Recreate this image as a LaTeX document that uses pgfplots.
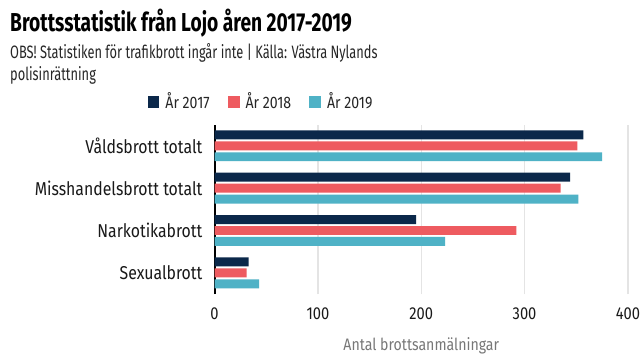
\documentclass[border=0pt]{standalone}
\usepackage{pgfplots}
\pgfplotsset{compat=1.18}
\usepackage{fontspec}
\setmainfont{Fira Sans}[FakeStretch=0.85]
\newfontfamily\titlefont{Fira Sans}[FakeStretch=0.74]
\newfontfamily\subfont{Fira Sans}[FakeStretch=0.715]
\definecolor{c17}{HTML}{0B284A}
\definecolor{c18}{HTML}{EE5B60}
\definecolor{c19}{HTML}{4FB2C6}
\definecolor{gridc}{HTML}{E4E4E4}
\definecolor{labc}{HTML}{777777}
\begin{document}
\begin{tikzpicture}[x=0.75pt,y=0.75pt]
\path[fill=white] (-215.3,-65) rectangle (424.7,295);
\node[anchor=base west, inner sep=0pt, font=\titlefont\bfseries\fontsize{19.5pt}{22pt}\selectfont, text=black] at (-205.3,263) {Brottsstatistik från Lojo åren 2017-2019};
\node[anchor=base west, inner sep=0pt, font=\subfont\fontsize{13.5pt}{16.5pt}\selectfont, text=black!85] at (-205.3,236) {OBS! Statistiken för trafikbrott ingår inte | Källa: Västra Nylands};
\node[anchor=base west, inner sep=0pt, font=\subfont\fontsize{13.5pt}{16.5pt}\selectfont, text=black!85] at (-205.3,214) {polisinrättning};
\begin{axis}[
  scale only axis, width=311pt, height=127.5pt,
  xbar, bar width=6.75pt,
  xmin=0, xmax=400,
  ymin=-0.5, ymax=3.5,
  xtick={0,100,200,300,400},
  ytick={0,1,2,3},
  yticklabels={Sexualbrott, Narkotikabrott, Misshandelsbrott totalt, Våldsbrott totalt},
  axis x line=bottom, axis y line=left,
  x axis line style={draw=none},
  y axis line style={black, line width=1.5pt, -},
  major tick length=0pt,
  xmajorgrids, major grid style={gridc, line width=1.1pt},
  /pgf/number format/assume math mode=true,
  xticklabel style={font=\fontsize{13pt}{15pt}\selectfont, text=black!90, anchor=north, inner sep=0pt, yshift=-10.5pt},
  yticklabel style={font=\fontsize{14pt}{16pt}\selectfont, text=black!90, anchor=east, inner sep=0pt, xshift=-9pt},
  xlabel={Antal brottsanmälningar},
  xlabel style={font=\fontsize{12.5pt}{14pt}\selectfont, text=labc, at={(axis description cs:0.5,0)}, anchor=base, inner sep=0pt, yshift=-42.75pt},
  legend columns=3,
  legend style={draw=none, fill=none, at={(axis description cs:0.113,1.135)}, anchor=center, font=\fontsize{12.5pt}{14pt}\selectfont, text=black!85,
    /tikz/every odd column/.append style={column sep=2.5pt},
    /tikz/every even column/.append style={column sep=11.5pt}},
  legend image code/.code={\fill[#1] (0pt,-4.5pt) rectangle (9pt,4.5pt);},
]
\addplot[fill=c17, draw=none, bar shift=8.25pt] coordinates {(33,0) (195,1) (344,2) (357,3)};
\addplot[fill=c18, draw=none, bar shift=0pt] coordinates {(31,0) (292,1) (335,2) (351,3)};
\addplot[fill=c19, draw=none, bar shift=-8.25pt] coordinates {(43,0) (223,1) (352,2) (375,3)};
\legend{År 2017, År 2018, År 2019}
\end{axis}
\end{tikzpicture}
\end{document}
